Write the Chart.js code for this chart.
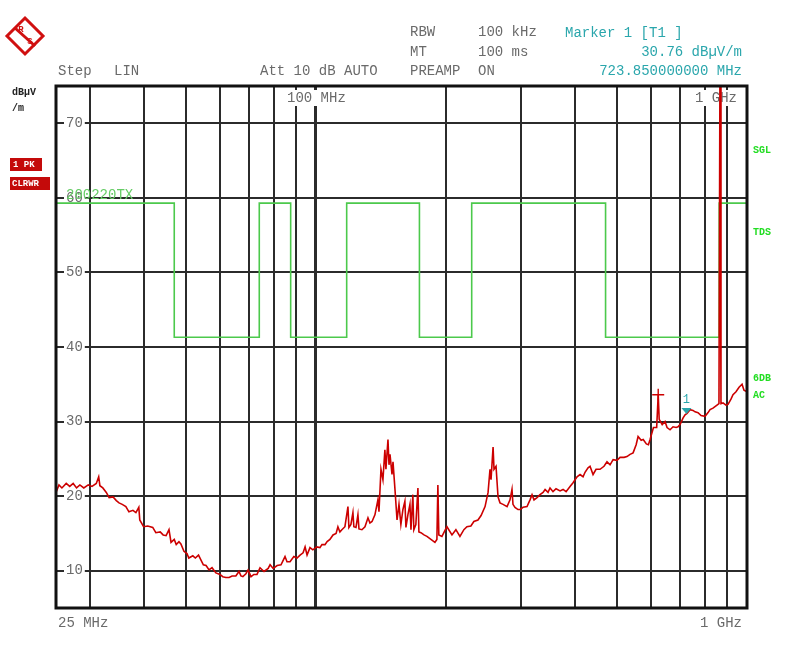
<!DOCTYPE html>
<html>
<head>
<meta charset="utf-8">
<script src="https://cdn.jsdelivr.net/npm/chart.js@4.4.0/dist/chart.umd.min.js"></script>
<style>
  html, body { margin: 0; padding: 0; background: #fff; }
  #wrap { position: relative; width: 802px; height: 653px; }
</style>
</head>
<body>
<div id="wrap"><canvas id="myChart" width="802" height="653"></canvas></div>
<script>
// trace (MHz / dBuV/m)
const traceFreq = [
  25.0, 25.4, 25.8, 26.4, 26.9, 27.4, 27.9, 28.4, 29.0, 29.7, 30.3, 31.0, 31.4, 31.6, 32.1, 32.7, 33.2, 33.9, 34.5, 35.0,
  35.6, 36.3, 36.9, 37.7, 38.3, 38.9, 39.1, 39.9, 40.8, 41.9, 42.6, 43.6, 44.3, 45.0, 45.7, 46.2, 47.0, 47.5, 48.2, 48.7,
  49.5, 50.3, 50.8, 51.9, 52.6, 53.5, 54.9, 55.7, 56.6, 57.5, 58.7, 60.0, 60.9, 61.9, 63.0, 64.0, 65.3, 66.4, 67.1, 67.8,
  68.9, 69.7, 70.8, 71.9, 73.1, 74.3, 75.9, 77.6, 78.4, 79.7, 81.4, 83.1, 84.9, 85.8, 87.2, 89.0, 90.5, 92.0, 93.5, 94.5,
  95.5, 97.0, 98.5, 100.6, 102.3, 103.4, 105.1, 106.3, 107.9, 109.7, 111.5, 112.6, 113.8, 115.0, 116.9, 118.8, 119.4, 120.7, 122.0, 122.6,
  124.0, 125.3, 126.0, 128.0, 130.1, 132.2, 133.6, 135.1, 137.2, 139.4, 140.2, 141.7, 143.2, 144.7, 145.5, 147.1, 147.9, 148.7, 150.3, 151.1,
  152.7, 154.4, 156.0, 157.6, 159.3, 161.0, 161.9, 163.6, 165.4, 166.3, 168.0, 168.9, 170.7, 172.6, 173.5, 175.4, 178.3, 181.1, 185.0, 189.0,
  191.0, 192.0, 193.0, 196.2, 201.5, 207.0, 211.4, 216.0, 220.6, 224.2, 229.0, 232.7, 237.8, 241.8, 247.0, 251.0, 253.6, 255.0, 257.8, 259.1,
  261.9, 264.7, 267.5, 271.9, 277.8, 282.2, 285.2, 286.7, 289.8, 294.5, 297.7, 302.5, 309.0, 314.0, 317.4, 320.8, 326.0, 331.2, 336.6, 340.3,
  345.7, 349.4, 355.0, 360.8, 368.6, 374.6, 380.7, 388.8, 395.1, 403.6, 410.1, 416.8, 421.2, 428.0, 432.6, 439.6, 446.7, 456.3, 466.1, 473.6,
  481.4, 489.3, 499.4, 507.8, 518.8, 526.9, 535.6, 544.4, 553.3, 559.1, 568.4, 574.6, 584.3, 590.8, 596.0, 606.9, 617.4, 622.5, 625.8, 635.9,
  645.6, 652.6, 663.1, 673.8, 685.0, 692.0, 699.5, 711.0, 718.5, 726.0, 737.8, 749.6, 757.8, 770.0, 782.5, 799.4, 812.3, 821.0, 834.0, 852.0,
  861.0, 865.8, 870.3, 879.7, 894.0, 903.6, 918.0, 928.0, 943.0, 958.5, 974.0, 984.0, 1000.0
];
const traceLevel = [
  20.5, 21.5, 21.1, 21.7, 21.3, 21.7, 21.1, 21.5, 21.1, 21.5, 21.3, 21.7, 22.6, 21.4, 21.1, 20.5, 19.8, 19.9, 19.4, 19.1,
  18.9, 18.6, 17.9, 18.1, 17.8, 18.5, 16.8, 15.9, 16.0, 15.8, 15.1, 15.2, 14.8, 14.7, 15.5, 13.8, 14.2, 13.5, 13.9, 13.6,
  12.6, 12.3, 11.7, 12.0, 11.7, 12.1, 10.8, 10.7, 10.1, 10.4, 9.7, 9.5, 9.2, 9.1, 9.1, 9.3, 9.3, 9.9, 9.3, 9.2,
  9.6, 10.1, 9.2, 9.5, 9.5, 10.4, 9.9, 10.3, 10.8, 10.3, 10.7, 10.8, 11.9, 11.2, 11.2, 11.9, 11.7, 12.1, 12.4, 13.2,
  12.1, 13.1, 12.8, 13.2, 13.1, 13.5, 13.5, 13.9, 14.2, 14.8, 15.0, 15.9, 15.2, 15.5, 15.9, 18.6, 15.8, 16.2, 17.8, 15.9,
  15.8, 17.5, 15.6, 15.5, 15.9, 17.1, 16.4, 16.6, 17.5, 19.5, 17.9, 23.6, 22.2, 26.2, 23.6, 27.6, 24.2, 25.6, 22.9, 24.6,
  20.9, 16.8, 18.9, 16.2, 18.2, 19.3, 15.8, 17.5, 18.9, 15.5, 20.2, 15.5, 16.2, 21.1, 15.2, 15.1, 14.8, 14.6, 14.2, 13.8,
  14.2, 21.5, 14.8, 14.6, 15.9, 14.8, 15.5, 14.6, 15.5, 15.9, 16.0, 16.6, 16.8, 17.4, 18.6, 20.5, 23.6, 22.2, 26.6, 23.6,
  24.0, 19.9, 19.1, 18.9, 18.6, 19.5, 20.9, 18.9, 18.5, 18.2, 18.2, 18.5, 18.6, 19.5, 20.2, 19.5, 19.8, 20.2, 20.5, 20.9,
  20.5, 21.1, 20.6, 21.0, 20.7, 20.9, 20.6, 21.3, 21.8, 22.6, 22.9, 22.6, 23.2, 23.8, 24.0, 22.9, 23.6, 23.6, 24.0, 24.6,
  24.2, 24.9, 24.8, 25.2, 25.2, 25.3, 25.6, 25.8, 26.9, 28.0, 27.5, 27.6, 27.0, 26.9, 27.6, 29.2, 29.2, 33.6, 30.3, 29.6,
  30.0, 29.2, 28.9, 29.3, 29.2, 29.3, 29.6, 30.5, 30.9, 31.1, 31.6, 31.5, 31.3, 31.2, 30.8, 30.7, 31.2, 31.6, 31.8, 32.2,
  32.4, 80.0, 32.4, 32.5, 32.2, 32.3, 33.0, 33.6, 34.0, 34.6, 35.0, 34.2, 34.0
];

// limit line 200220TX
const limitFreq  = [25, 47, 47, 74, 74, 87.5, 87.5, 118, 118, 174, 174, 230, 230, 470, 470, 862, 862, 1000, 1000];
const limitLevel = [59.3, 59.3, 41.3, 41.3, 59.3, 59.3, 41.3, 41.3, 59.3, 59.3, 41.3, 41.3, 59.3, 59.3, 41.3, 41.3, 59.3, 59.3, 65];

const gridFreq = [30, 40, 50, 60, 70, 80, 90, 100, 200, 300, 400, 500, 600, 700, 800, 900];
const levelTicks = [10, 20, 30, 40, 50, 60, 70];

const markerFreq = [723.85];
const markerLevel = [30.76];
const peakFreq = [622.5];
const peakLevel = [33.6];

const MONO = '"Liberation Mono", "DejaVu Sans Mono", monospace';
const GRAY = '#6a6a6a';
const CYAN = '#2aa6ac';
const GREEN = '#22dd22';

function txt(ctx, s, x, y, font, color, align) {
  ctx.font = font;
  ctx.fillStyle = color;
  ctx.textAlign = align || 'left';
  ctx.textBaseline = 'middle';
  ctx.fillText(s, x, y);
}

// frame, header texts, side labels
const decor = {
  id: 'decor',
  beforeDatasetsDraw(chart) {
    const ctx = chart.ctx;
    ctx.save();
    // frequency labels inside the top of the grid
    ctx.fillStyle = '#fff';
    ctx.fillRect(285, 90, 64, 16);
    ctx.fillRect(693, 90, 48, 16);
    txt(ctx, '100 MHz', 287, 98, '14px ' + MONO, GRAY);
    txt(ctx, '1 GHz', 695, 98, '14px ' + MONO, GRAY);
    txt(ctx, '200220TX', 66, 195, '14px ' + MONO, '#66cc66');
    ctx.restore();
  },
  afterDatasetsDraw(chart) {
    const ctx = chart.ctx;
    const a = chart.chartArea;
    const xs = chart.scales.x, ys = chart.scales.y;
    ctx.save();

    // marker 1
    const mx = xs.getPixelForValue(markerFreq[0]);
    const my = ys.getPixelForValue(markerLevel[0]);
    ctx.fillStyle = CYAN;
    ctx.beginPath();
    ctx.moveTo(mx - 5, my - 8);
    ctx.lineTo(mx + 5, my - 8);
    ctx.lineTo(mx, my - 2);
    ctx.closePath();
    ctx.fill();
    txt(ctx, '1', mx, my - 16, '12px ' + MONO, CYAN, 'center');

    // frame
    ctx.strokeStyle = '#111';
    ctx.lineWidth = 3;
    ctx.strokeRect(a.left, a.top, a.right - a.left, a.bottom - a.top);

    // header
    const f = '14px ' + MONO;
    txt(ctx, 'Step', 58, 71, f, GRAY);
    txt(ctx, 'LIN', 114, 71, f, GRAY);
    txt(ctx, 'Att 10 dB AUTO', 260, 71, f, GRAY);
    txt(ctx, 'RBW', 410, 32, f, GRAY);
    txt(ctx, '100 kHz', 478, 32, f, GRAY);
    txt(ctx, 'MT', 410, 52, f, GRAY);
    txt(ctx, '100 ms', 478, 52, f, GRAY);
    txt(ctx, 'PREAMP', 410, 71, f, GRAY);
    txt(ctx, 'ON', 478, 71, f, GRAY);
    txt(ctx, 'Marker 1 [T1 ]', 565, 33, f, CYAN);
    txt(ctx, markerLevel[0].toFixed(2) + ' dBµV/m', 742, 52, f, CYAN, 'right');
    txt(ctx, markerFreq[0].toFixed(9) + ' MHz', 742, 71, f, CYAN, 'right');

    // bottom
    txt(ctx, '25 MHz', 58, 623, f, GRAY);
    txt(ctx, '1 GHz', 700, 623, f, GRAY);

    // unit
    txt(ctx, 'dBµV', 12, 92, 'bold 10px ' + MONO, '#222');
    txt(ctx, '/m', 12, 108, 'bold 10px ' + MONO, '#222');

    // trace boxes
    ctx.fillStyle = '#c40a0a';
    ctx.fillRect(10, 158, 32, 13);
    ctx.fillRect(10, 177, 40, 13);
    txt(ctx, '1 PK', 13, 165, 'bold 9px ' + MONO, '#fff');
    txt(ctx, 'CLRWR', 12, 184, 'bold 9px ' + MONO, '#fff');

    // right side
    const g = 'bold 10px ' + MONO;
    txt(ctx, 'SGL', 753, 150, g, GREEN);
    txt(ctx, 'TDS', 753, 232, g, GREEN);
    txt(ctx, '6DB', 753, 378, g, GREEN);
    txt(ctx, 'AC', 753, 395, g, GREEN);

    // R&S logo
    ctx.strokeStyle = '#d01010';
    ctx.lineWidth = 3;
    ctx.beginPath();
    ctx.moveTo(25, 18); ctx.lineTo(43, 36); ctx.lineTo(25, 54); ctx.lineTo(7, 36);
    ctx.closePath();
    ctx.stroke();
    ctx.beginPath();
    ctx.moveTo(15, 28); ctx.lineTo(35, 46);
    ctx.stroke();
    txt(ctx, 'R', 21, 30, 'bold 9px ' + MONO, '#d01010', 'center');
    txt(ctx, 'S', 30, 42, 'bold 9px ' + MONO, '#d01010', 'center');

    ctx.restore();
  }
};

const traceData = traceFreq.map((f, i) => ({ x: f, y: traceLevel[i] }));
const limitData = limitFreq.map((f, i) => ({ x: f, y: limitLevel[i] }));
const peakData = peakFreq.map((f, i) => ({ x: f, y: peakLevel[i] }));

new Chart(document.getElementById('myChart').getContext('2d'), {
  type: 'line',
  data: {
    datasets: [
      {
        label: 'Trace 1',
        data: traceData,
        borderColor: '#cc0000',
        borderWidth: 1.6,
        pointRadius: 0,
        order: 1
      },
      {
        label: 'Peak',
        data: peakData,
        showLine: false,
        pointStyle: 'cross',
        pointRadius: 6,
        borderColor: '#cc0000',
        borderWidth: 1.4,
        order: 0
      },
      {
        label: '200220TX',
        data: limitData,
        borderColor: '#4cc94c',
        borderWidth: 1.6,
        pointRadius: 0,
        order: 2
      }
    ]
  },
  plugins: [decor],
  options: {
    responsive: false,
    animation: false,
    layout: { padding: { left: 56, right: 55, top: 86, bottom: 45 } },
    plugins: { legend: { display: false }, tooltip: { enabled: false } },
    scales: {
      x: {
        type: 'logarithmic',
        min: 25,
        max: 1000,
        afterFit: s => { s.height = 0; },
        afterBuildTicks: s => { s.ticks = gridFreq.map(v => ({ value: v })); },
        ticks: { display: false },
        border: { display: false },
        grid: {
          drawTicks: false,
          color: '#2b2b2b',
          lineWidth: c => (c.tick && c.tick.value === 100 ? 3 : 2)
        }
      },
      y: {
        min: 5,
        max: 75,
        afterFit: s => { s.width = 0; },
        afterBuildTicks: s => { s.ticks = levelTicks.map(v => ({ value: v })); },
        border: { display: false },
        grid: { drawTicks: false, color: '#2b2b2b', lineWidth: 2 },
        ticks: {
          mirror: true,
          padding: 10,
          color: GRAY,
          font: { family: MONO, size: 14 },
          showLabelBackdrop: true,
          backdropColor: '#fff',
          backdropPadding: { x: 2, y: 0 }
        }
      }
    }
  }
});
</script>
</body>
</html>
